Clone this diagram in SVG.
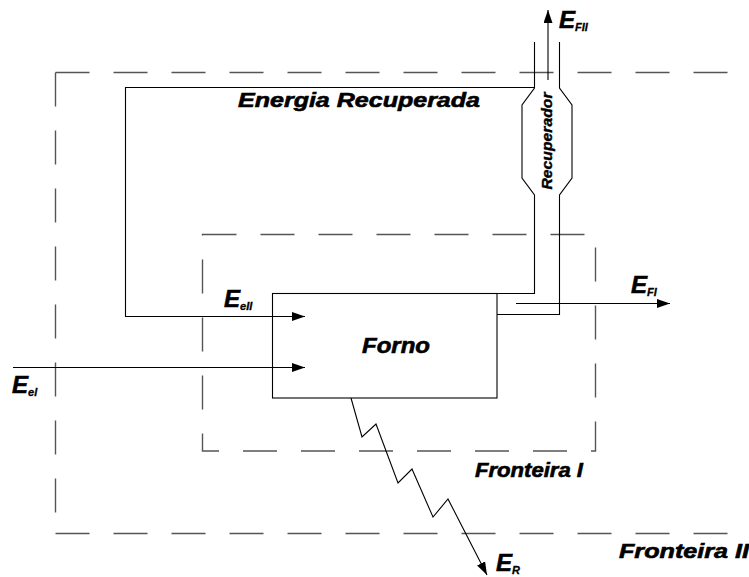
<svg xmlns="http://www.w3.org/2000/svg" width="749" height="577" viewBox="0 0 749 577">
<style>
.bnd{fill:none;stroke:#555;stroke-width:1.4;stroke-dasharray:34 24}
.ln{fill:none;stroke:#000;stroke-width:1.1}
.t{font-family:"Liberation Sans",Arial,sans-serif;font-weight:bold;font-style:italic;fill:#000;stroke:#000;stroke-width:0.6}
</style>
<defs>
<marker id="ah" markerUnits="userSpaceOnUse" markerWidth="14" markerHeight="10" refX="13" refY="4.5" orient="auto">
<path d="M0,0 L13,4.5 L0,9 z" fill="#000"/>
</marker>
</defs>
<rect width="749" height="577" fill="#fff"/>
<g id="fronteira2">
<path class="bnd" d="M55.5,72.5 H749"/>
<path class="bnd" d="M55.5,72.5 V533.5"/>
<path class="bnd" d="M55.5,533.5 H749"/>
<text class="t" x="619" y="558" font-size="20" textLength="130" lengthAdjust="spacingAndGlyphs">Fronteira II</text>
</g>
<g id="fronteira1">
<rect class="bnd" x="202.5" y="234.5" width="393" height="216.5"/>
<text class="t" x="475" y="477" font-size="20" textLength="108" lengthAdjust="spacingAndGlyphs">Fronteira I</text>
</g>
<g id="forno">
<rect class="ln" x="272.5" y="293.5" width="224.5" height="104.5"/>
<text class="t" x="362" y="353" font-size="22" textLength="68" lengthAdjust="spacingAndGlyphs">Forno</text>
</g>
<g id="recuperador">
<path class="ln" d="M534.5,42 V88 L522,105 V178 L534.5,195 V293.5 H497"/>
<path class="ln" d="M497,314.5 H559.5 V195 L572,178 V105 L559.5,88 V42"/>
<text class="t" transform="translate(551.5,141) rotate(-90)" text-anchor="middle" font-size="15" textLength="97" lengthAdjust="spacingAndGlyphs" style="stroke-width:0.4">Recuperador</text>
</g>
<g id="connectors">
<path class="ln" d="M534.5,87.5 H125.5 V316.5 H305" marker-end="url(#ah)"/>
<path class="ln" d="M13,367.5 H305" marker-end="url(#ah)"/>
<path class="ln" d="M516,303.5 H670" marker-end="url(#ah)"/>
<path class="ln" d="M548,80 V10" marker-end="url(#ah)"/>
<path class="ln" d="M351,398 L362,437 L376,424 L398,483 L412,469 L433,517 L448,499 L487,575" marker-end="url(#ah)"/>
</g>
<g id="labels">
<text class="t" x="238" y="107" font-size="20" textLength="242" lengthAdjust="spacingAndGlyphs">Energia Recuperada</text>
<text class="t" x="559" y="28" font-size="24">E<tspan font-size="11" dy="3" style="stroke-width:0.3">FII</tspan></text>
<text class="t" x="224" y="307" font-size="24">E<tspan font-size="11" dy="3" style="stroke-width:0.3">eII</tspan></text>
<text class="t" x="631" y="293" font-size="24">E<tspan font-size="11" dy="3" style="stroke-width:0.3">FI</tspan></text>
<text class="t" x="12" y="393" font-size="24">E<tspan font-size="11" dy="3" style="stroke-width:0.3">el</tspan></text>
<text class="t" x="496" y="571" font-size="24">E<tspan font-size="11" dy="3" style="stroke-width:0.3">R</tspan></text>
</g>
</svg>
